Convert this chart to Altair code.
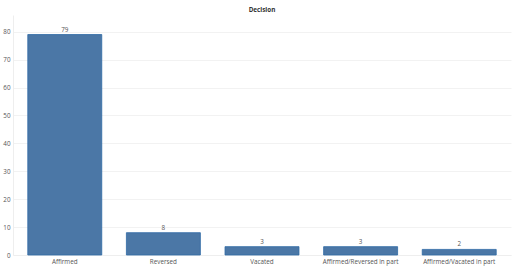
import altair as alt
import pandas as pd

categories = ["Affirmed", "Reversed", "Vacated", "Affirmed/Reversed in part", "Affirmed/Vacated in part"]
counts = [79, 8, 3, 3, 2]
y_ticks = [0, 10, 20, 30, 40, 50, 60, 70, 80]

df = pd.DataFrame({"Decision": categories, "Count": counts})

x = alt.X("Decision:N", sort=categories, title=None,
          scale=alt.Scale(paddingInner=0.25, paddingOuter=0.15),
          axis=alt.Axis(labelAngle=0, labelFontSize=6.3, labelColor="#555555", ticks=False,
                        domain=True, domainColor="#eeeeee", labelPadding=3, labelFont="Open Sans"))
y = alt.Y("Count:Q", title=None,
          scale=alt.Scale(domain=[0, 86], nice=False),
          axis=alt.Axis(values=y_ticks, labelFontSize=6.3, labelOverlap=False,
                        labelColor="#555555", ticks=False, domain=True, domainColor="#eeeeee",
                        gridColor="#f2f2f2", labelPadding=3, labelFont="Open Sans"))

bars = alt.Chart(df).mark_bar(color="#4b77a6", stroke="#2f6aa5", strokeWidth=0.8).encode(x=x, y=y)
labels = alt.Chart(df).mark_text(dy=-2, baseline="bottom", fontSize=6.3, color="#555555", font="Open Sans").encode(
    x=x, y=y, text="Count:Q")

chart = (bars + labels).properties(
    width=498, height=240,
    title=alt.TitleParams("Decision", fontSize=6.3, font="Open Sans", color="#333333", fontWeight="bold", offset=2),
    padding={"left": 13, "top": 15, "right": 1, "bottom": 18},
    autosize=alt.AutoSizeParams(type="none"),
).configure_view(stroke=None)

chart.save("out.html", embed_options={"renderer": "svg", "actions": False})
